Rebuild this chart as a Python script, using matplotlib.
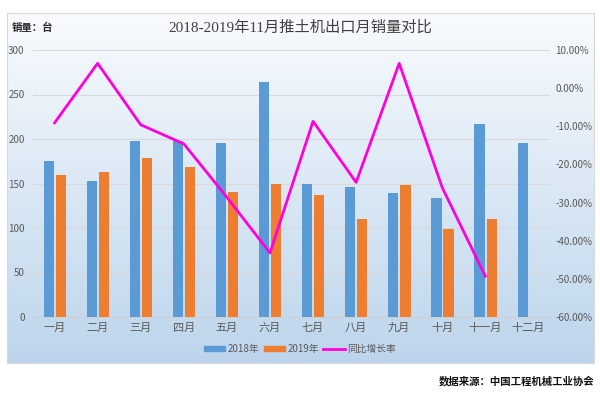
"""Bulldozer export monthly sales comparison, 2018 vs 2019."""

import numpy as np
import matplotlib.pyplot as plt
from matplotlib.patches import Patch
from matplotlib.lines import Line2D
from matplotlib.ticker import FuncFormatter

plt.rcParams["font.family"] = ["Noto Sans CJK SC", "DejaVu Sans"]

months = ["一月", "二月", "三月", "四月", "五月", "六月",
          "七月", "八月", "九月", "十月", "十一月", "十二月"]
sales_2018 = [175, 153, 198, 198, 196, 264, 150, 146, 139, 134, 217, 195]
sales_2019 = [159, 163, 179, 169, 140, 150, 137, 110, 148, 99, 110]
growth_pct = [-9.1, 6.5, -9.6, -14.6, -28.6, -43.2, -8.7, -24.7, 6.5, -26.1, -49.3]

W, H = 600, 413
fig = plt.figure(figsize=(W / 100, H / 100), dpi=100)
fig.patch.set_facecolor("white")

# gradient panel behind the chart
bg = fig.add_axes([7 / W, 1 - 363 / H, 587 / W, 350 / H])
grad = np.linspace(0, 1, 256).reshape(-1, 1)
top = np.array([0.975, 0.985, 0.995])
bot = np.array([0.74, 0.835, 0.925])
img = top + (bot - top) * grad[..., None]
bg.imshow(img, aspect="auto", extent=[0, 1, 0, 1])
bg.set_xticks([])
bg.set_yticks([])
for s in bg.spines.values():
    s.set_color("#d9d9d9")
    s.set_linewidth(0.8)

ax = fig.add_axes([33 / W, 1 - 317 / H, 517 / W, 267 / H])
ax.patch.set_alpha(0)
x = np.arange(len(months))
bw = 0.235
ax.bar(x - 0.135, sales_2018, width=bw, color="#5b9bd5", zorder=3)
ax.bar(x[:len(sales_2019)] + 0.145, sales_2019, width=bw, color="#ed7d31", zorder=3)
ax.set_xlim(-0.5, len(months) - 0.5)
ax.set_ylim(0, 300)
ax.set_yticks(range(0, 301, 50))
ax.set_xticks(x)
ax.set_xticklabels(months)
ax.grid(axis="y", color="#d9d9d9", linewidth=0.8, zorder=0)
for s in ["top", "right", "left"]:
    ax.spines[s].set_visible(False)
ax.spines["bottom"].set_color("#d0d0d0")
ax.tick_params(length=0, labelsize=7, colors="#595959")
ax.tick_params(axis="x", labelsize=8, pad=4)
ax.tick_params(axis="y", pad=6)

ax2 = ax.twinx()
ax2.plot(x[:len(growth_pct)], growth_pct, color="#ff00dd", linewidth=2, zorder=4)
ax2.set_ylim(-60, 10)
ax2.set_yticks(range(-60, 11, 10))
ax2.yaxis.set_major_formatter(FuncFormatter(lambda v, p: f"{v:.2f}%"))
for s in ax2.spines.values():
    s.set_visible(False)
ax2.tick_params(length=0, labelsize=7, colors="#595959", pad=4)

fig.text(300 / W, 1 - 28 / H, "2018-2019年11月推土机出口月销量对比",
         ha="center", va="center", fontsize=11, color="#404040",
         family=["Liberation Serif", "Noto Sans CJK SC"])
fig.text(12 / W, 1 - 28 / H, "销量：台", ha="left", va="center",
         fontsize=7.5, fontweight="bold", color="#262626")

handles = [Patch(color="#5b9bd5"), Patch(color="#ed7d31"),
           Line2D([0], [0], color="#ff00dd", linewidth=2)]
fig.legend(handles, ["2018年", "2019年", "同比增长率"], loc="center",
           bbox_to_anchor=(300 / W, 1 - 349 / H), ncol=3, frameon=False,
           fontsize=7, labelcolor="#595959", handlelength=2.2, handleheight=0.45,
           handletextpad=0.3, columnspacing=0.4)

fig.text(594 / W, 1 - 381 / H, "数据来源：中国工程机械工业协会",
         ha="right", va="center", fontsize=7.5, fontweight="bold", color="#111111")

fig.savefig("out.png", dpi=100)
